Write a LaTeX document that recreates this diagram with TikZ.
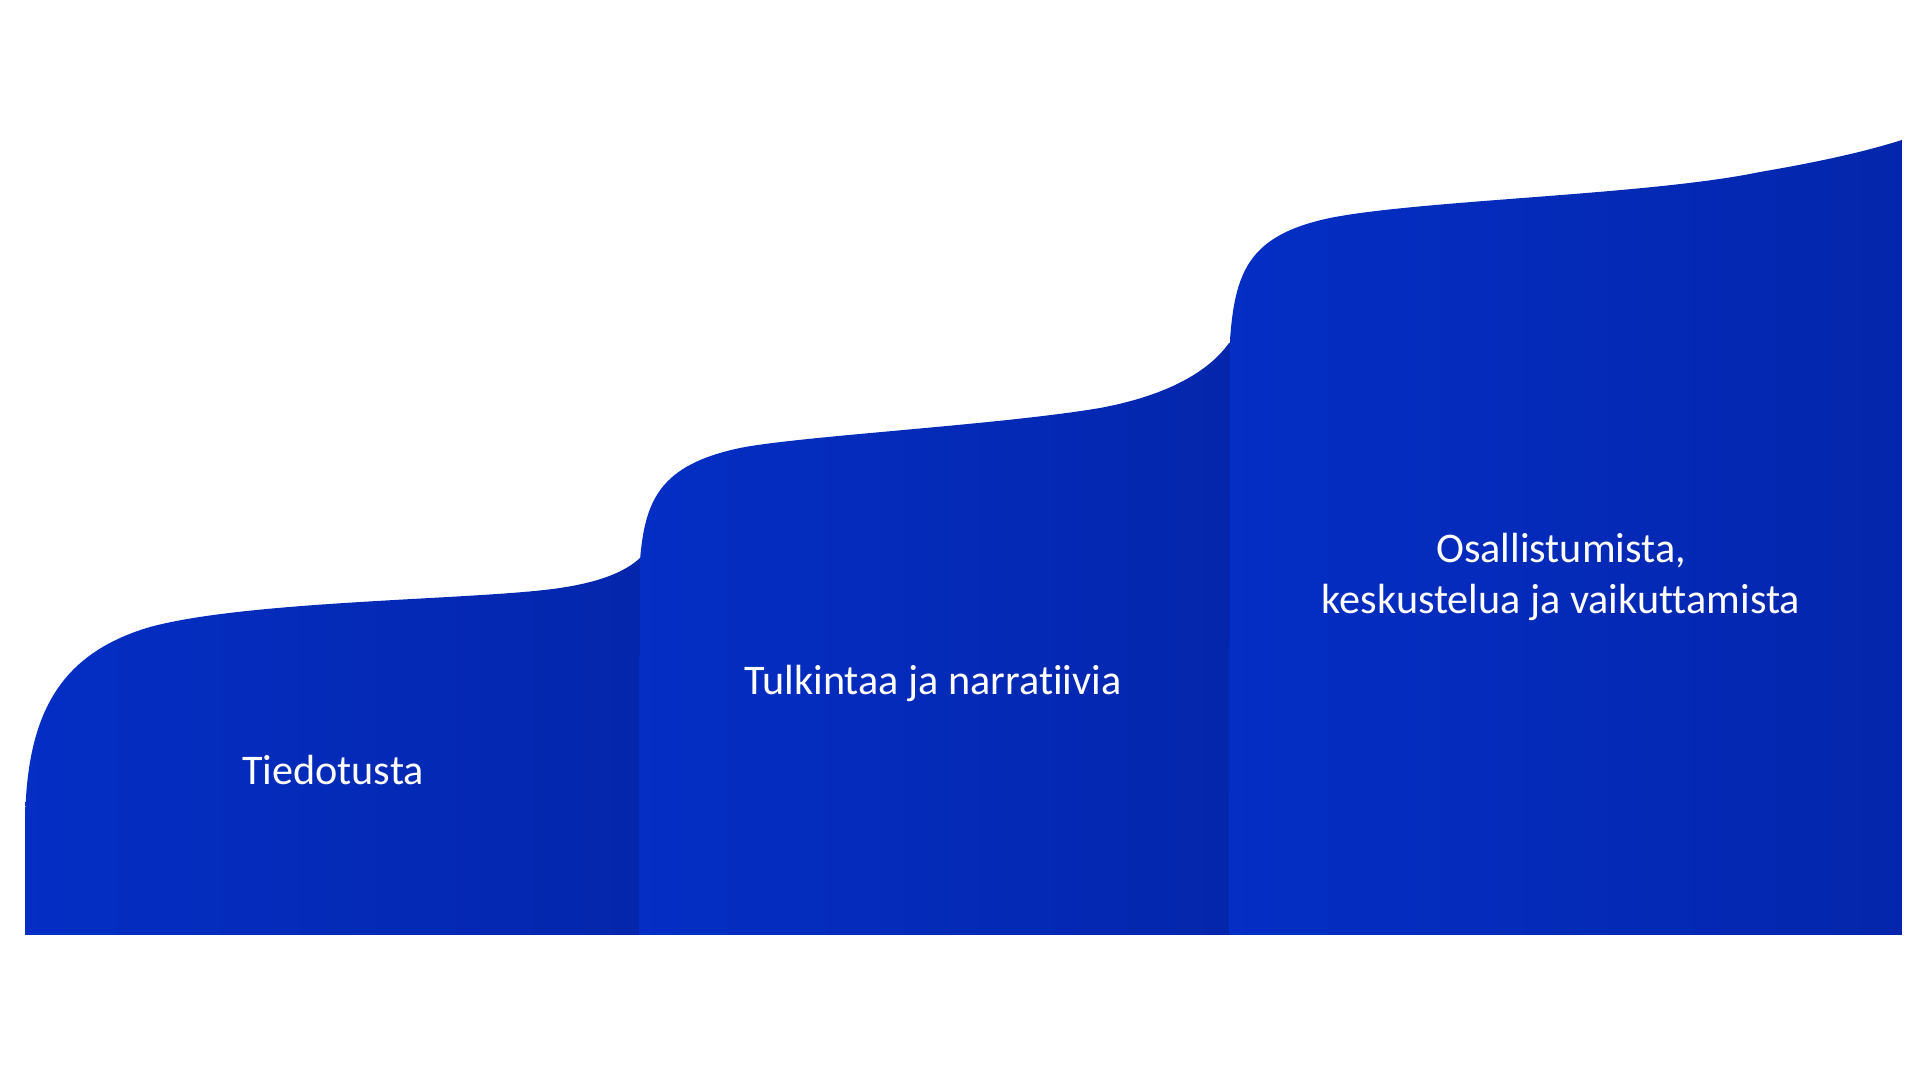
\documentclass[tikz,border=0pt]{standalone}
\usepackage{fontspec}
\setmainfont{Carlito}[Ligatures=NoCommon]
\definecolor{stairlight}{RGB}{4,46,196}
\definecolor{stairdark}{RGB}{4,38,172}

\begin{document}
\begin{tikzpicture}[x=0.01cm, y=-0.01cm,
  stairfill/.style={left color=stairlight, right color=stairdark},
  stairtext/.style={text=white, align=center, font=\fontsize{12}{14.5}\selectfont}]
\useasboundingbox (0,0) rectangle (1920,1080);

\shade [stairfill] (25,935) -- (25,830) .. controls (25,720) and (55,655) .. (150,627)
  .. controls (250,600) and (480,600) .. (560,588) .. controls (600,582) and (625,572) .. (640,558)
  -- (650,558) -- (650,935) -- cycle;

\shade [stairfill] (639,935) -- (640,560) .. controls (645,500) and (660,465) .. (740,448)
  .. controls (800,436) and (1000,425) .. (1100,408) .. controls (1170,395) and (1210,370) .. (1229,343)
  -- (1240,343) -- (1240,935) -- cycle;

\shade [stairfill] (1229,935) -- (1230,340) .. controls (1235,270) and (1250,235) .. (1330,218)
  .. controls (1420,200) and (1650,195) .. (1760,172) .. controls (1830,160) and (1870,150) .. (1902,140)
  -- (1902,935) -- cycle;

\node (S-1) at (333,770) [stairtext]{Tiedotusta};
\node (S-2) at (933,683) [stairtext]{Tulkintaa ja narratiivia};
\node (S-3) at (1561,577) [stairtext]{Osallistumista,\\keskustelua ja vaikuttamista};

\end{tikzpicture}
\end{document}
